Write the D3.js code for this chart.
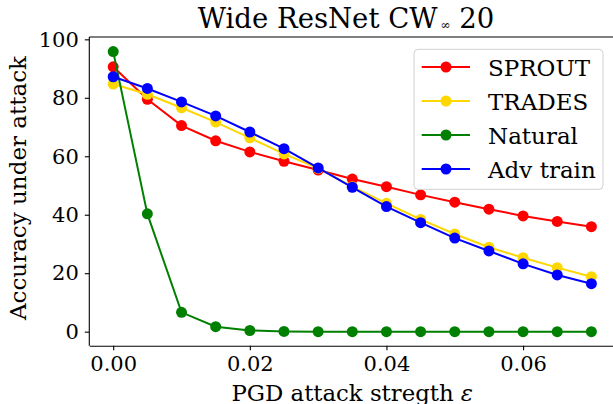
<!DOCTYPE html>
<html>

<head>
    <meta charset="utf-8">
    <style>
        body {
            margin: 0;
            background: #fff;
        }

        svg {
            display: block;
            font-family: 'DejaVu Serif', serif;
        }

        .axis .domain {
            stroke: #000;
            stroke-width: 1.1;
        }

        .axis .tick line {
            stroke: #000;
            stroke-width: 1.1;
        }

        .axis .tick text {
            font-size: 21px;
            fill: #000;
            font-family: 'DejaVu Serif', serif;
        }
    </style>
</head>

<body>
    <svg width="613" height="404"></svg>

    <script src="https://d3js.org/d3.v7.min.js"></script>

    <script>
        // attack strengths
        let eps = [0, 0.005, 0.01, 0.015, 0.02, 0.025, 0.03, 0.035, 0.04, 0.045, 0.05, 0.055, 0.06, 0.065, 0.07];

        // accuracy under attack
        let sprout = [90.6, 79.5, 70.5, 65.3, 61.5, 58.3, 55.3, 52.2, 49.6, 46.8, 44.3, 41.9, 39.6, 37.7, 35.9];
        let trades = [84.7, 81.2, 76.6, 71.7, 66.3, 60.8, 55.9, 49.6, 43.9, 38.4, 33.4, 28.9, 25.3, 21.9, 18.8];
        let natural = [95.8, 40.3, 6.6, 1.7, 0.4, 0.1, 0, 0, 0, 0, 0, 0, 0, 0, 0];
        let advTrain = [87.2, 83.2, 78.6, 73.8, 68.3, 62.6, 56.0, 49.4, 42.8, 37.3, 32.0, 27.6, 23.2, 19.4, 16.4];

        let seriesNames = ["SPROUT", "TRADES", "Natural", "Adv train"];
        let seriesColors = ["#ff0000", "#ffd700", "#008000", "#0000ff"];
        let seriesValues = [sprout, trades, natural, advTrain];

        let xTicks = [0, 0.02, 0.04, 0.06];
        let yTicks = [0, 20, 40, 60, 80, 100];

        let svg = d3.select("svg");

        let margin = { left: 89.3, right: 615.3, top: 37, bottom: 345.7 };

        let x = d3.scaleLinear()
            .domain([-0.0035, 0.0735])
            .range([margin.left, margin.right]);

        let y = d3.scaleLinear()
            .domain([-4.8, 100.8])
            .range([margin.bottom, margin.top]);

        // axes
        let xAxis = svg.append("g")
            .attr("class", "x axis")
            .attr("transform", `translate(0,${margin.bottom})`)
            .call(d3.axisBottom(x)
                .tickValues(xTicks)
                .tickFormat(d3.format(".2f"))
                .tickSize(4.5)
                .tickPadding(6)
                .tickSizeOuter(0));

        let yAxis = svg.append("g")
            .attr("class", "y axis")
            .attr("transform", `translate(${margin.left},0)`)
            .call(d3.axisLeft(y)
                .tickValues(yTicks)
                .tickSize(4.5)
                .tickPadding(6)
                .tickSizeOuter(0));

        // top spine (right one falls outside the picture)
        svg.append("line")
            .attr("x1", margin.left).attr("x2", margin.right)
            .attr("y1", margin.top).attr("y2", margin.top)
            .style("stroke", "#000")
            .style("stroke-width", 1.1);
        yAxis.select(".domain").attr("d", `M0,${margin.top}V${margin.bottom}`);

        // lines + markers
        let line = d3.line()
            .x((d, i) => x(eps[i]))
            .y(d => y(d));

        seriesValues.forEach((vals, k) => {
            let g = svg.append("g");
            g.append("path")
                .attr("d", line(vals))
                .style("fill", "none")
                .style("stroke", seriesColors[k])
                .style("stroke-width", 2);
            g.selectAll("circle")
                .data(vals)
                .enter()
                .append("circle")
                .attr("cx", (d, i) => x(eps[i]))
                .attr("cy", d => y(d))
                .attr("r", 5.5)
                .style("fill", seriesColors[k]);
        });

        // legend
        let legend = svg.append("g");
        legend.append("rect")
            .attr("x", 414).attr("y", 49.3)
            .attr("width", 189).attr("height", 140)
            .attr("rx", 4)
            .style("fill", "rgba(255,255,255,0.8)")
            .style("stroke", "#d0d0d0")
            .style("stroke-width", 1);

        seriesNames.forEach((name, k) => {
            let yy = 67 + k * 34;
            legend.append("line")
                .attr("x1", 421.7).attr("x2", 470)
                .attr("y1", yy).attr("y2", yy)
                .style("stroke", seriesColors[k])
                .style("stroke-width", 2);
            legend.append("circle")
                .attr("cx", 446).attr("cy", yy)
                .attr("r", 5.5)
                .style("fill", seriesColors[k]);
            legend.append("text")
                .attr("x", 488).attr("y", yy + 8.5)
                .style("font-size", "23px")
                .text(name);
        });

        // title
        let title = svg.append("text")
            .attr("x", 346)
            .attr("y", 27.5)
            .attr("text-anchor", "middle")
            .style("font-size", "27.5px");
        title.append("tspan").text("Wide ResNet CW");
        title.append("tspan").attr("dx", 3).attr("dy", 1).style("font-size", "12px").text("∞");
        title.append("tspan").attr("dy", -1).text(" 20");

        // axis labels
        svg.append("text")
            .attr("x", (margin.left + margin.right) / 2)
            .attr("y", 400.5)
            .attr("text-anchor", "middle")
            .style("font-size", "22.8px")
            .html("PGD attack stregth <tspan font-style='italic'>ε</tspan>");

        svg.append("text")
            .attr("transform", `translate(26,188) rotate(-90)`)
            .attr("text-anchor", "middle")
            .style("font-size", "23px")
            .text("Accuracy under attack");
    </script>
</body>

</html>
